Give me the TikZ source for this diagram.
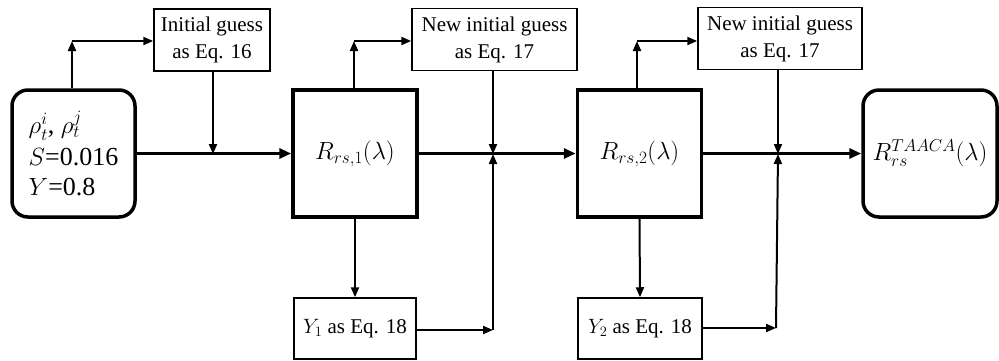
\documentclass[tikz,border=0pt]{standalone}
\usepackage{fontspec}
\setmainfont{Liberation Serif}
\newfontfamily\boxfont{Liberation Serif}
\usetikzlibrary{arrows.meta}
\DeclareMathSizes{26}{26}{19}{15}
\DeclareMathSizes{21}{21}{15.5}{12}
\begin{document}
\begin{tikzpicture}[x=1pt,y=-1pt,
  thinbox/.style={draw, line width=1.5pt, minimum height=62pt, inner sep=0pt,
    align=center, font=\boxfont\fontsize{21}{27}\selectfont},
  bigbox/.style={draw, line width=3.5pt, minimum width=124pt, minimum height=127pt,
    inner sep=0pt, font=\boxfont\fontsize{26}{30}\selectfont},
  roundbox/.style={bigbox, rounded corners=16pt},
  mainarrow/.style={line width=3pt, -{Triangle[length=12pt,width=10pt]}},
  thinarrow/.style={line width=2pt, -{Triangle[length=10pt,width=8pt]}},
]
\useasboundingbox (0,0) rectangle (999,360);

% main chain
\node[roundbox, minimum width=123pt, align=left] (in) at (73.5,153.5)
  {$\rho_t^i$, $\rho_t^j$\\[2pt] $S$=0.016\\ $Y$=0.8};
\node[bigbox] (r1) at (355,153.5) {$R_{rs,1}(\lambda)$};
\node[bigbox] (r2) at (639.5,153.5) {$R_{rs,2}(\lambda)$};
\node[roundbox, minimum width=134pt] (out) at (930,153.5) {$R_{rs}^{TAACA}(\lambda)$};

% guess boxes above
\node[thinbox, minimum width=116pt] (g0) at (212,40) {Initial guess\\as Eq. 16};
\node[thinbox, minimum width=165pt] (g1) at (494.5,39.5) {New initial guess\\as Eq. 17};
\node[thinbox, minimum width=164pt] (g2) at (780,38.5) {New initial guess\\as Eq. 17};

% Y boxes below
\node[thinbox, minimum width=122pt, minimum height=61pt] (y1) at (355,328.5) {$Y_1$ as Eq. 18};
\node[thinbox, minimum width=124pt, minimum height=61pt] (y2) at (640,328.5) {$Y_2$ as Eq. 18};

% junctions and corners
\coordinate (j0) at (213,154);
\coordinate (j1) at (493,154);
\coordinate (j2) at (778,154);
\coordinate (t0) at (72,41);
\coordinate (t1) at (354,41);
\coordinate (t2) at (637,41);
\coordinate (c1) at (493,330);
\coordinate (c2) at (776,328);

% main flow
\draw[mainarrow] (in.east) -- (r1.west);
\draw[mainarrow] (r1.east) -- (r2.west);
\draw[mainarrow] (r2.east) -- (out.west);

% branches up to the guess boxes
\draw[thinarrow] (in.north -| t0) -- (t0);
\draw[thinarrow] (t0) -- (t0 -| g0.west);
\draw[thinarrow] (r1.north -| t1) -- (t1);
\draw[thinarrow] (t1) -- (t1 -| g1.west);
\draw[thinarrow] (r2.north -| t2) -- (t2);
\draw[thinarrow] (t2) -- (t2 -| g2.west);

% guesses fed back into the main line
\draw[thinarrow] (g0.south -| j0) -- (j0);
\draw[thinarrow] (g1.south -| j1) -- (j1);
\draw[thinarrow] (g2.south -| j2) -- (j2);

% branches down to the Y boxes
\draw[thinarrow] (r1.south) -- (y1.north);
\draw[thinarrow] (r2.south) -- (y2.north);

% Y values fed back into the main line
\draw[thinarrow] (y1.east |- c1) -- (c1);
\draw[thinarrow] (c1) -- (j1);
\draw[thinarrow] (y2.east |- c2) -- (c2);
\draw[thinarrow] (c2) -- (j2);
\end{tikzpicture}
\end{document}
